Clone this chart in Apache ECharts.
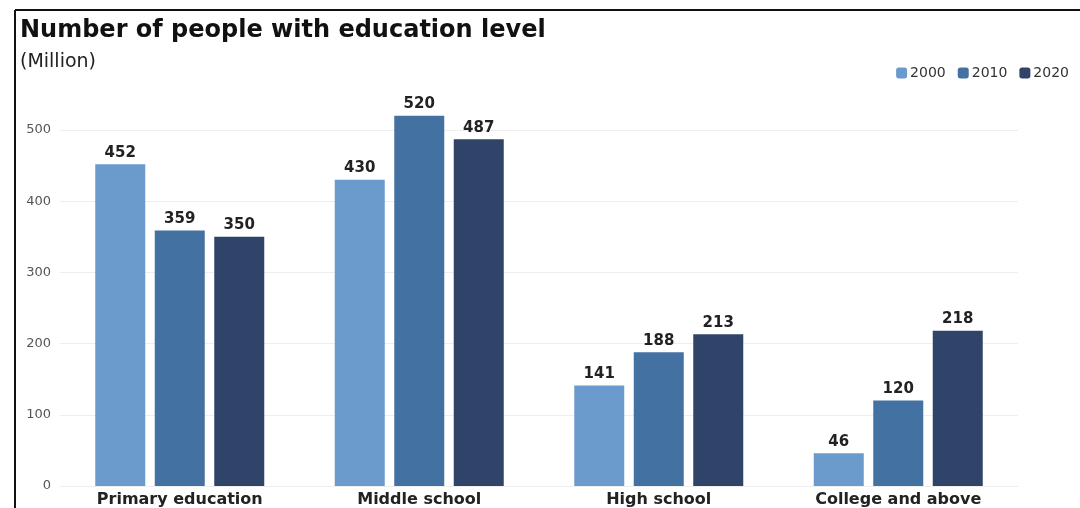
<!DOCTYPE html>
<html><head><meta charset="utf-8">
<script src="https://cdn.jsdelivr.net/npm/echarts@6/dist/echarts.min.js"></script>
<style>html,body{margin:0;padding:0;background:#fff}#c{width:1080px;height:508px}</style>
</head><body><div id="c"></div>
<script>
const categories = ['Primary education', 'Middle school', 'High school', 'College and above'];
const seriesNames = ['2000', '2010', '2020'];
const values2000 = [452, 430, 141, 46];
const values2010 = [359, 520, 188, 120];
const values2020 = [350, 487, 213, 218];
const yTicks = [0, 100, 200, 300, 400, 500];
const colors = ['#6b9bcc', '#4371a2', '#2f4468'];
const font = '"DejaVu Sans", Verdana, sans-serif';

const chart = echarts.init(document.getElementById('c'), null, {renderer: 'canvas'});
const data = [values2000, values2010, values2020];
chart.setOption({
  animation: false,
  backgroundColor: '#fff',
  textStyle: {fontFamily: font},
  title: [
    {text: 'Number of people with education level', left: 15, top: 14,
     textStyle: {fontSize: 24, fontWeight: 'bold', color: '#111', fontFamily: font}},
    {text: '(Million)', left: 15, top: 48,
     textStyle: {fontSize: 19, fontWeight: 'normal', color: '#222', fontFamily: font}}
  ],
  legend: {
    right: 6, top: 61, itemWidth: 11, itemHeight: 11, itemGap: 12,
    icon: 'roundRect',
    textStyle: {fontSize: 14, color: '#333', fontFamily: font, padding: [0, 0, 0, -2]},
    data: seriesNames
  },
  graphic: [
    {type: 'line', shape: {x1: 15, y1: 10, x2: 1080, y2: 10}, style: {stroke: '#111', lineWidth: 2}},
    {type: 'line', shape: {x1: 15, y1: 10, x2: 15, y2: 508}, style: {stroke: '#111', lineWidth: 2}}
  ],
  grid: {left: 60, right: 62, top: 130, bottom: 20, containLabel: false},
  xAxis: {
    type: 'category', data: categories,
    axisLine: {show: true, lineStyle: {color: '#eeeeee'}},
    axisTick: {show: false},
    axisLabel: {fontSize: 16, fontWeight: 'bold', color: '#222', margin: 6, fontFamily: font}
  },
  yAxis: {
    type: 'value', min: yTicks[0], max: yTicks[yTicks.length - 1], interval: 100,
    axisLine: {show: false}, axisTick: {show: false},
    axisLabel: {fontSize: 13, color: '#555', margin: 9, fontFamily: font},
    splitLine: {lineStyle: {color: '#eeeeee', width: 1}}
  },
  series: seriesNames.map((n, i) => ({
    name: n, type: 'bar', data: data[i], barWidth: 50, barGap: '19%', clip: false,
    itemStyle: {color: colors[i]},
    label: {show: true, position: 'top', distance: 4, fontSize: 15, fontWeight: 'bold', color: '#222', fontFamily: font}
  }))
});
</script></body></html>
